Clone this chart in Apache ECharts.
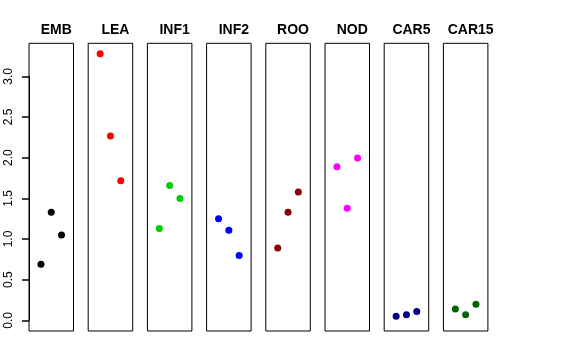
<!DOCTYPE html>
<html><head><meta charset="utf-8">
<script src="https://cdn.jsdelivr.net/npm/echarts@6/dist/echarts.min.js"></script>
<style>html,body{margin:0;padding:0;background:#fff}#c{width:576px;height:360px}</style>
</head><body><div id="c"></div>
<script>
const categories = ["EMB","LEA","INF1","INF2","ROO","NOD","CAR5","CAR15"];
const colors = ["#000000","#FF0000","#00CD00","#0000FF","#8B0000","#FF00FF","#000080","#006400"];
const xPositions = [1,2,3];
const EMB = [0.69,1.33,1.05];
const LEA = [3.28,2.27,1.72];
const INF1 = [1.13,1.66,1.50];
const INF2 = [1.25,1.11,0.80];
const ROO = [0.89,1.33,1.58];
const NOD = [1.89,1.38,2.00];
const CAR5 = [0.05,0.07,0.11];
const CAR15 = [0.14,0.07,0.20];
const yTicks = ["0.0","0.5","1.0","1.5","2.0","2.5","3.0"];
const seriesValues = [EMB,LEA,INF1,INF2,ROO,NOD,CAR5,CAR15];

const panelLeft0 = 29, panelStep = 59.2, panelW = 44.5, panelTop = 43.3, panelH = 287.7;
const grids=[], xAxes=[], yAxes=[], series=[], titles=[];
categories.forEach((c,i)=>{
  const left = panelLeft0 + i*panelStep;
  grids.push({left:left, top:panelTop, width:panelW, height:panelH, show:true, borderColor:'#000', borderWidth:1, backgroundColor:'transparent'});
  xAxes.push({type:'value', gridIndex:i, min:-0.16, max:4.16, show:false});
  yAxes.push({type:'value', gridIndex:i, min:-0.13, max:3.41, show:false});
  series.push({type:'scatter', xAxisIndex:i, yAxisIndex:i, symbol:'circle', symbolSize:7,
    itemStyle:{color:colors[i], opacity:1}, data: seriesValues[i].map((v,j)=>[xPositions[j], v]), silent:true});
  titles.push({text:c, left:left+panelW/2, top:18, textAlign:'center',
    textStyle:{fontFamily:'Liberation Sans, Arial, sans-serif', fontWeight:'bold', fontSize:14, color:'#000'}});
});
// axis grid spanning exactly 0..3
const zeroY = 320.3, threeY = 76.3;
grids.push({left:panelLeft0, top:threeY, width:panelW, height:zeroY-threeY, show:false});
const ai = categories.length;
xAxes.push({type:'value', gridIndex:ai, min:0, max:1, show:false});
yAxes.push({type:'value', gridIndex:ai, min:0, max:3, interval:0.5, position:'left', show:true,
  axisLine:{show:true, lineStyle:{color:'#000', width:1}},
  axisTick:{show:true, inside:false, length:7, lineStyle:{color:'#000', width:1.5}},
  splitLine:{show:false},
  axisLabel:{show:true, rotate:90, margin:14, fontFamily:'Liberation Sans, Arial, sans-serif', fontSize:12, color:'#000',
    formatter:(v)=>yTicks[Math.round(v/0.5)]}});

const chart = echarts.init(document.getElementById('c'), null, {renderer:'canvas'});
chart.setOption({animation:false, backgroundColor:'#fff', title:titles, grid:grids, xAxis:xAxes, yAxis:yAxes, series:series});
</script></body></html>
